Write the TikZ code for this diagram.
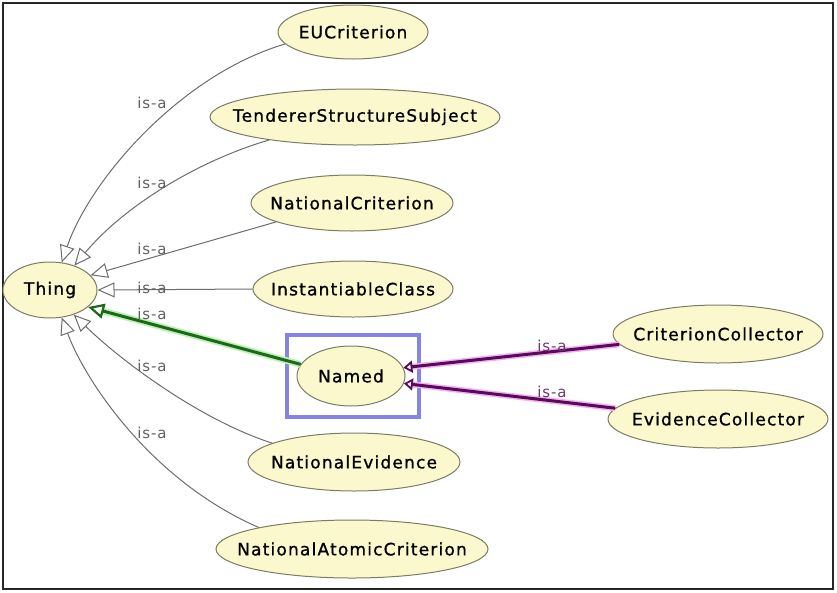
\documentclass[tikz,border=0pt]{standalone}
\usepackage{fontspec}
\newfontfamily\classfont{DejaVu Sans}[LetterSpace=7,FakeBold=1]
\newfontfamily\labelfont{DejaVu Sans}[LetterSpace=6]
\usetikzlibrary{arrows.meta,shapes.geometric}

\definecolor{nodefill}{HTML}{FAF8CC}
\definecolor{nodeline}{HTML}{7C7C64}
\definecolor{edgegray}{HTML}{6C6C6C}
\definecolor{labelgray}{HTML}{606060}
\definecolor{selgreen}{HTML}{1A6A1A}
\definecolor{glowgreen}{HTML}{BDF2B5}
\definecolor{relpurple}{HTML}{5A0A5A}
\definecolor{glowpurple}{HTML}{F2B0F2}
\definecolor{purplelabel}{HTML}{6A3A6A}
\definecolor{selblue}{HTML}{8484E6}

% class names are set in a zero-width box so that the ellipse keeps
% exactly its given minimum size
\newcommand{\cname}[1]{\makebox[0pt]{#1}}

\tikzset{
  cls/.style={ellipse, draw=nodeline, fill=nodefill, line width=1pt,
    inner sep=0pt, text=black, font=\classfont\fontsize{17}{20}\selectfont},
  isa/.style={draw=edgegray, line width=1pt,
    -{Triangle[fill=white, length=17pt, width=15pt, line width=1pt]}},
  isagreen/.style={draw=selgreen, line width=3pt,
    preaction={draw=glowgreen, line width=6.5pt, -, shorten >=12pt},
    -{Triangle[fill=white, length=16pt, width=15pt, line width=2.2pt]}},
  isapurple/.style={draw=relpurple, line width=3pt,
    preaction={draw=glowpurple, line width=6pt, -, shorten >=6pt},
    -{Triangle[fill=white, length=9pt, width=12pt, line width=1.8pt]}},
  islabel/.style={inner sep=0pt, text=labelgray,
    font=\labelfont\fontsize{15}{17}\selectfont},
  islabelp/.style={islabel, text=purplelabel},
}

\begin{document}
\begin{tikzpicture}[x=1pt,y=-1pt]
\useasboundingbox (0,0) rectangle (837,592);
\draw[black!85, line width=2pt] (3,3) rectangle (833,589);

% selection frame around the focused class
\draw[selblue, line width=4pt] (287,335) rectangle (419,417);

% classes
\node[cls, minimum width=94pt,  minimum height=56pt] (Thing) at (50,290)  {\cname{Thing}};
\node[cls, minimum width=150pt, minimum height=54pt] (EU)    at (353,32)  {\cname{EUCriterion}};
\node[cls, minimum width=290pt, minimum height=56pt] (TSS)   at (355,117) {\cname{TendererStructureSubject}};
\node[cls, minimum width=202pt, minimum height=56pt] (NC)    at (352,203) {\cname{NationalCriterion}};
\node[cls, minimum width=200pt, minimum height=56pt] (IC)    at (353,289) {\cname{InstantiableClass}};
\node[cls, minimum width=108pt, minimum height=60pt] (Named) at (351,376) {\cname{Named}};
\node[cls, minimum width=212pt, minimum height=58pt] (NE)    at (354,462) {\cname{NationalEvidence}};
\node[cls, minimum width=272pt, minimum height=58pt] (NAC)   at (352,549) {\cname{NationalAtomicCriterion}};
\node[cls, minimum width=210pt, minimum height=58pt] (CC)    at (718,334) {\cname{CriterionCollector}};
\node[cls, minimum width=220pt, minimum height=58pt] (EC)    at (718,419) {\cname{EvidenceCollector}};

% subclass relations towards Thing
\draw[isa] (EU.190)  .. controls (180,75)  and (90,180)  .. (Thing.67);
\draw[isa] (TSS.195) .. controls (200,160) and (125,205) .. (Thing.45);
\draw[isa] (NC.194) -- (Thing.20);
\draw[isa] (IC.west) -- (Thing.east);
\draw[isa] (NE.167)  .. controls (200,420) and (120,360) .. (Thing.-46);
\draw[isa] (NAC.167) .. controls (150,480) and (85,380)  .. (Thing.-67);
\draw[isagreen] (Named.167) -- (Thing.-24);

% subclass relations towards Named
\draw[isapurple] (CC.186) -- (Named.9);
\draw[isapurple] (EC.174) -- (Named.-8);

% relation labels
\node[islabel] (l1) at (152,103) {is-a};
\node[islabel] (l2) at (152,183) {is-a};
\node[islabel] (l3) at (152,249) {is-a};
\node[islabel] (l4) at (152,288) {is-a};
\node[islabel] (l5) at (152,314) {is-a};
\node[islabel] (l6) at (152,366) {is-a};
\node[islabel] (l7) at (152,433) {is-a};
\node[islabelp] (l8) at (552,346) {is-a};
\node[islabelp] (l9) at (552,392) {is-a};
\end{tikzpicture}
\end{document}
